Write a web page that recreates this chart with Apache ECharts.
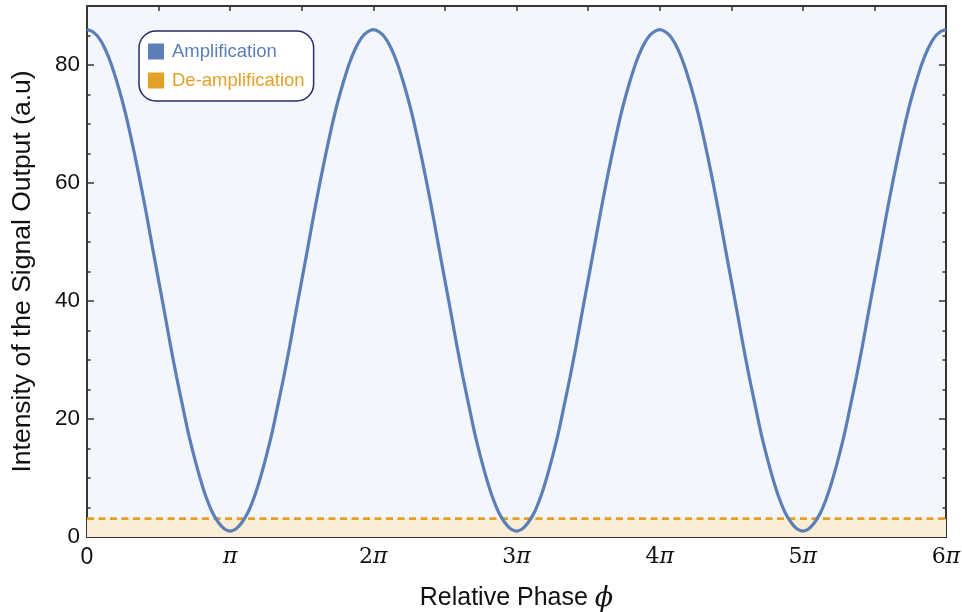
<!DOCTYPE html>
<html>
<head>
<meta charset="utf-8">
<script src="https://cdn.jsdelivr.net/npm/echarts@6/dist/echarts.min.js"></script>
<style>
  html, body { margin: 0; padding: 0; background: #ffffff; }
  #chart { width: 962px; height: 612px; }
</style>
</head>
<body>
<div id="chart"></div>
<script>
// Relative phase, in units of pi (0 .. 6 pi, steps of pi/24)
const phase = [
  0, 0.042, 0.083, 0.125, 0.167, 0.208, 0.25, 0.292, 0.333, 0.375, 0.417, 0.458,
  0.5, 0.542, 0.583, 0.625, 0.667, 0.708, 0.75, 0.792, 0.833, 0.875, 0.917, 0.958,
  1, 1.042, 1.083, 1.125, 1.167, 1.208, 1.25, 1.292, 1.333, 1.375, 1.417, 1.458,
  1.5, 1.542, 1.583, 1.625, 1.667, 1.708, 1.75, 1.792, 1.833, 1.875, 1.917, 1.958,
  2, 2.042, 2.083, 2.125, 2.167, 2.208, 2.25, 2.292, 2.333, 2.375, 2.417, 2.458,
  2.5, 2.542, 2.583, 2.625, 2.667, 2.708, 2.75, 2.792, 2.833, 2.875, 2.917, 2.958,
  3, 3.042, 3.083, 3.125, 3.167, 3.208, 3.25, 3.292, 3.333, 3.375, 3.417, 3.458,
  3.5, 3.542, 3.583, 3.625, 3.667, 3.708, 3.75, 3.792, 3.833, 3.875, 3.917, 3.958,
  4, 4.042, 4.083, 4.125, 4.167, 4.208, 4.25, 4.292, 4.333, 4.375, 4.417, 4.458,
  4.5, 4.542, 4.583, 4.625, 4.667, 4.708, 4.75, 4.792, 4.833, 4.875, 4.917, 4.958,
  5, 5.042, 5.083, 5.125, 5.167, 5.208, 5.25, 5.292, 5.333, 5.375, 5.417, 5.458,
  5.5, 5.542, 5.583, 5.625, 5.667, 5.708, 5.75, 5.792, 5.833, 5.875, 5.917, 5.958,
  6
];

// Signal output intensity (a.u.)
const intensity = [
  86.0, 85.6, 84.6, 82.8, 80.3, 77.2, 73.6, 69.4, 64.8, 59.8, 54.5, 49.0,
  43.5, 38.0, 32.5, 27.2, 22.3, 17.6, 13.5, 9.8, 6.7, 4.2, 2.5, 1.4,
  1.0, 1.4, 2.5, 4.2, 6.7, 9.8, 13.5, 17.6, 22.3, 27.2, 32.5, 38.0,
  43.5, 49.0, 54.5, 59.8, 64.8, 69.4, 73.6, 77.2, 80.3, 82.8, 84.6, 85.6,
  86.0, 85.6, 84.6, 82.8, 80.3, 77.2, 73.6, 69.4, 64.8, 59.8, 54.5, 49.0,
  43.5, 38.0, 32.5, 27.2, 22.3, 17.6, 13.5, 9.8, 6.7, 4.2, 2.5, 1.4,
  1.0, 1.4, 2.5, 4.2, 6.7, 9.8, 13.5, 17.6, 22.3, 27.2, 32.5, 38.0,
  43.5, 49.0, 54.5, 59.8, 64.8, 69.4, 73.6, 77.2, 80.3, 82.8, 84.6, 85.6,
  86.0, 85.6, 84.6, 82.8, 80.3, 77.2, 73.6, 69.4, 64.8, 59.8, 54.5, 49.0,
  43.5, 38.0, 32.5, 27.2, 22.3, 17.6, 13.5, 9.8, 6.7, 4.2, 2.5, 1.4,
  1.0, 1.4, 2.5, 4.2, 6.7, 9.8, 13.5, 17.6, 22.3, 27.2, 32.5, 38.0,
  43.5, 49.0, 54.5, 59.8, 64.8, 69.4, 73.6, 77.2, 80.3, 82.8, 84.6, 85.6,
  86.0
];

// De-amplification threshold level
const threshold = 3.1;
const phaseRange = [0, 6];
const intensityRange = [0, 90];

const seriesNames = ['Amplification', 'De-amplification'];
const yTickLabels = [0, 20, 40, 60, 80];

const blue = '#5b7fb6';
const orange = '#e5a027';
const frame = '#363636';
const ink = '#111111';
const sans = 'Liberation Sans, Arial, Helvetica, sans-serif';
const serif = 'DejaVu Serif, Liberation Serif, serif';

const curve = phase.map((p, i) => [p, intensity[i]]);

function piLabel(v) {
  if (v === 0) return '{s|0}';
  if (!Number.isInteger(v)) return '';
  return '{n|' + (v === 1 ? '' : v) + '}{p|π}';
}

// frame axis builder: line + inward ticks, no grid lines
function frameAxis(extra, tickLen, showLine) {
  return Object.assign({
    type: 'value',
    axisLine: { show: showLine, onZero: false, lineStyle: { color: frame, width: 2 } },
    axisTick: { show: true, inside: true, length: tickLen, lineStyle: { color: frame, width: 1.5 } },
    axisLabel: { show: false },
    splitLine: { show: false }
  }, extra);
}

const chart = echarts.init(document.getElementById('chart'), null, { renderer: 'canvas' });

chart.setOption({
  animation: false,
  backgroundColor: '#ffffff',
  grid: {
    left: 87, right: 16, top: 6, bottom: 75,
    outerBoundsMode: 'none',
    containLabel: false,
    show: true, backgroundColor: '#f3f7fb', borderWidth: 0
  },
  legend: {
    orient: 'vertical',
    left: 139, top: 31,
    padding: [11, 9, 11, 9],
    itemGap: 10,
    itemWidth: 16, itemHeight: 16,
    icon: 'rect',
    backgroundColor: '#ffffff',
    borderColor: '#2a2a6e',
    borderWidth: 1.5,
    borderRadius: 17,
    data: [
      { name: seriesNames[0], textStyle: { color: blue } },
      { name: seriesNames[1], textStyle: { color: orange } }
    ],
    textStyle: { fontFamily: sans, fontSize: 18.5, padding: [0, 0, 0, 3] }
  },
  xAxis: [
    frameAxis({
      position: 'bottom',
      min: phaseRange[0], max: phaseRange[1], interval: 0.5,
      name: '{t|Relative Phase }{f|ϕ}',
      nameLocation: 'middle',
      nameGap: 48,
      nameTextStyle: {
        rich: {
          t: { fontFamily: sans, fontSize: 25, color: ink },
          f: { fontFamily: serif, fontStyle: 'italic', fontSize: 27, color: ink }
        }
      },
      axisLabel: {
        show: true,
        margin: 9,
        formatter: piLabel,
        rich: {
          s: { fontFamily: sans, fontSize: 23, color: ink },
          n: { fontFamily: serif, fontSize: 22, color: ink },
          p: { fontFamily: serif, fontStyle: 'italic', fontSize: 22, color: ink }
        }
      }
    }, 5, true),
    frameAxis({
      position: 'top',
      min: phaseRange[0], max: phaseRange[1], interval: 0.5
    }, 5, true)
  ],
  yAxis: [
    frameAxis({
      position: 'left',
      min: intensityRange[0], max: intensityRange[1], interval: 5,
      name: 'Intensity of the Signal Output (a.u)',
      nameLocation: 'middle',
      nameGap: 51,
      nameTextStyle: { fontFamily: sans, fontSize: 26.5, color: ink },
      axisLabel: {
        show: true,
        margin: 7,
        fontFamily: sans,
        fontSize: 22.5,
        color: ink,
        formatter: v => (yTickLabels.indexOf(v) >= 0 ? String(v) : '')
      }
    }, 3.5, true),
    frameAxis({
      position: 'left',
      min: intensityRange[0], max: intensityRange[1], interval: 20
    }, 7, false),
    frameAxis({
      position: 'right',
      min: intensityRange[0], max: intensityRange[1], interval: 5
    }, 3.5, true),
    frameAxis({
      position: 'right',
      min: intensityRange[0], max: intensityRange[1], interval: 20
    }, 7, false)
  ],
  series: [
    {
      name: seriesNames[0],
      type: 'line',
      data: curve,
      smooth: 0.2,
      showSymbol: false,
      color: blue,
      lineStyle: { color: blue, width: 3.2 },
      z: 3
    },
    {
      name: seriesNames[1],
      type: 'line',
      data: [[phaseRange[0], threshold], [phaseRange[1], threshold]],
      showSymbol: false,
      color: orange,
      lineStyle: { color: orange, width: 2.8, type: [7, 4.5] },
      markArea: {
        silent: true,
        itemStyle: { color: '#faedd6' },
        data: [[{ yAxis: 0 }, { yAxis: threshold }]]
      },
      z: 2
    }
  ]
});
</script>
</body>
</html>
